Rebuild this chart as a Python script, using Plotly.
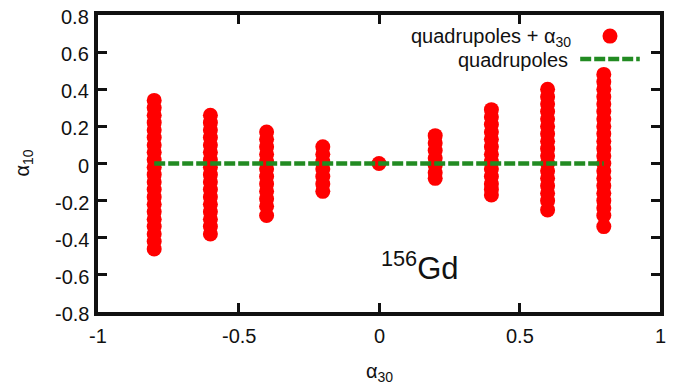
import plotly.graph_objects as go

# Column positions (alpha_30) and the alpha_10 values of the red points in each column
col_x = [-0.8, -0.6, -0.4, -0.2, 0.0, 0.2, 0.4, 0.6, 0.8]
y_m08 = [0.34, 0.30, 0.26, 0.22, 0.18, 0.14, 0.10, 0.06, 0.02, -0.02, -0.06, -0.10,
         -0.14, -0.18, -0.22, -0.26, -0.30, -0.34, -0.38, -0.42, -0.46]
y_m06 = [0.26, 0.22, 0.18, 0.14, 0.10, 0.06, 0.02, -0.02, -0.06, -0.10, -0.14, -0.18,
         -0.22, -0.26, -0.30, -0.34, -0.38]
y_m04 = [0.17, 0.13, 0.09, 0.05, 0.01, -0.03, -0.07, -0.11, -0.15, -0.19, -0.23, -0.28]
y_m02 = [0.09, 0.05, 0.01, -0.03, -0.07, -0.11, -0.15]
y_00 = [0.0]
y_p02 = [0.15, 0.11, 0.07, 0.03, -0.01, -0.05, -0.08]
y_p04 = [0.29, 0.25, 0.21, 0.17, 0.13, 0.09, 0.05, 0.01, -0.03, -0.07, -0.11, -0.14, -0.17]
y_p06 = [0.40, 0.36, 0.32, 0.28, 0.24, 0.20, 0.16, 0.12, 0.08, 0.04, 0.00, -0.04, -0.08,
         -0.12, -0.16, -0.20, -0.25]
y_p08 = [0.48, 0.44, 0.40, 0.36, 0.32, 0.28, 0.24, 0.20, 0.16, 0.12, 0.08, 0.04, 0.00,
         -0.04, -0.08, -0.12, -0.16, -0.20, -0.24, -0.28, -0.34]
col_y = [y_m08, y_m06, y_m04, y_m02, y_00, y_p02, y_p04, y_p06, y_p08]

# Quadrupoles-only line
quad_x = [-0.8, 0.8]
quad_y = [0.0, 0.0]

# Ticks
x_ticks = [-1, -0.5, 0, 0.5, 1]
x_tick_labels = ["-1", "-0.5", "0", "0.5", "1"]
y_ticks = [0.8, 0.6, 0.4, 0.2, 0, -0.2, -0.4, -0.6, -0.8]
y_tick_labels = ["0.8", "0.6", "0.4", "0.2", "0", "-0.2", "-0.4", "-0.6", "-0.8"]

pts_x, pts_y = [], []
for cx, ys in zip(col_x, col_y):
    pts_x += [cx] * len(ys)
    pts_y += ys

RED = "#ff0000"
GREEN = "#228b22"
INK = "#111111"
FONT = "Liberation Sans"
FS = 20

fig = go.Figure()
fig.add_trace(go.Scatter(x=pts_x, y=pts_y, mode="markers",
                         marker=dict(color=RED, size=15, line=dict(width=0)),
                         name="quadrupoles + α<sub>30</sub>", showlegend=False))
fig.add_trace(go.Scatter(x=quad_x, y=quad_y, mode="lines",
                         line=dict(color=GREEN, width=4.5, dash="11px,3px"),
                         name="quadrupoles", showlegend=False))


def axis(rng, tv):
    return dict(range=rng, tickmode="array", tickvals=tv, showticklabels=False,
                showgrid=False, zeroline=False, showline=True, linecolor=INK,
                linewidth=3.5, mirror="allticks", ticks="inside", ticklen=9, tickwidth=3,
                tickcolor=INK, automargin=False)


txt = dict(size=FS, color=INK, family=FONT)

# Tick labels
for v, t in zip(x_ticks, x_tick_labels):
    fig.add_annotation(x=v, xref="x", y=0, yref="paper", yanchor="middle", xanchor="center",
                       yshift=-24, text=t, showarrow=False, font=txt, borderpad=0)
for v, t in zip(y_ticks, y_tick_labels):
    fig.add_annotation(x=0, xref="paper", y=v, yref="y", xanchor="right", yanchor="middle",
                       xshift=-8, yshift=-2, text=t, showarrow=False, font=txt, borderpad=0)

# Axis titles
fig.add_annotation(x=0.5, xref="paper", y=0, yref="paper", yanchor="middle", yshift=-60,
                   text="α<sub>30</sub>", showarrow=False, font=txt)
fig.add_annotation(x=0, xref="paper", y=0, yref="y", xanchor="center", yanchor="middle",
                   xshift=-75, textangle=-90, text="α<sub>10</sub>", showarrow=False, font=txt)

# Legend drawn manually (text on left, symbol on right)
fig.add_annotation(xref="paper", yref="paper", x=0.843, y=0.924, xanchor="right", yanchor="middle",
                   text="quadrupoles + α<sub>30</sub>", showarrow=False, font=txt, borderpad=0)
fig.add_annotation(xref="paper", yref="paper", x=0.838, y=0.850, xanchor="right", yanchor="middle",
                   text="quadrupoles", showarrow=False, font=txt, borderpad=0)
fig.add_shape(type="circle", xref="paper", yref="paper", xsizemode="pixel", ysizemode="pixel",
              xanchor=0.911, yanchor=0.929, x0=-7.5, x1=7.5, y0=-7.5, y1=7.5,
              fillcolor=RED, line=dict(width=0))
fig.add_shape(type="line", xref="paper", yref="paper", x0=0.858, x1=0.964, y0=0.852, y1=0.852,
              line=dict(color=GREEN, width=4.5, dash="11px,3px"))

fig.add_annotation(x=0.147, y=-0.552, text="<sup>156</sup>Gd", showarrow=False,
                   font=dict(size=31, color=INK, family=FONT))

fig.update_layout(width=683, height=376, margin=dict(l=90, r=31, t=7, b=72),
                  plot_bgcolor="white", paper_bgcolor="white",
                  xaxis=axis([-1, 1], x_ticks),
                  yaxis=axis([-0.8, 0.8], y_ticks),
                  font=dict(family=FONT, color=INK, size=FS))

fig.write_html("out.html")
